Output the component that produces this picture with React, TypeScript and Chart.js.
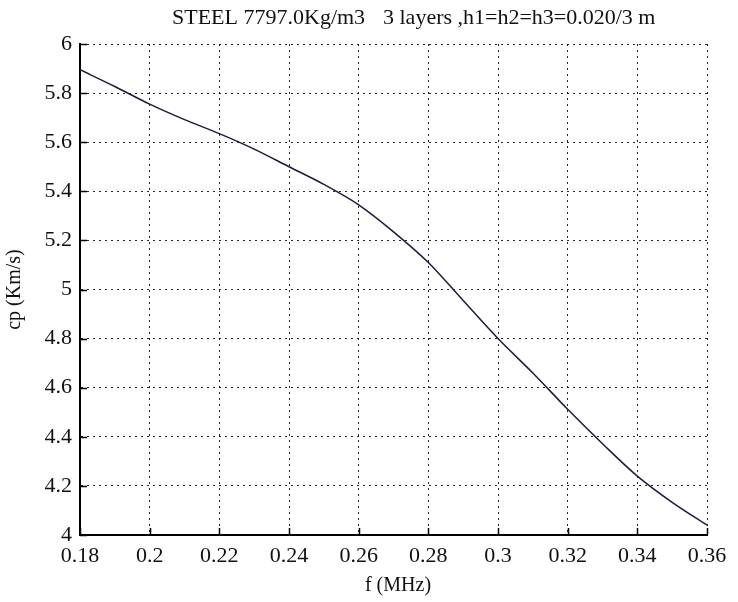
import { useEffect, useRef } from "react";
import { Chart, registerables } from "chart.js";

Chart.register(...registerables);

// ---- data ----
const freqs = [0.18, 0.19, 0.2, 0.21, 0.22, 0.23, 0.24, 0.25, 0.26, 0.27, 0.28, 0.29, 0.3, 0.31, 0.32, 0.33, 0.34, 0.35, 0.36];
const cpValues = [5.895, 5.827, 5.755, 5.692, 5.635, 5.572, 5.5, 5.428, 5.345, 5.235, 5.11, 4.955, 4.8, 4.66, 4.512, 4.372, 4.24, 4.133, 4.04];
const xTicks = [0.18, 0.2, 0.22, 0.24, 0.26, 0.28, 0.3, 0.32, 0.34, 0.36];
const yTicks = [4, 4.2, 4.4, 4.6, 4.8, 5, 5.2, 5.4, 5.6, 5.8, 6];
const titleLeft = "STEEL 7797.0Kg/m3";
const titleRight = "3 layers ,h1=h2=h3=0.020/3 m";
const xLabel = "f (MHz)";
const yLabel = "cp (Km/s)";

const SERIF = "'Liberation Serif', serif";

Chart.defaults.font.family = SERIF;

const fmt = (v: number) => String(Number(v.toFixed(2)));

const decorPlugin = {
  id: "decor",
  afterDatasetsDraw(chart: any) {
    const { ctx, chartArea, scales } = chart;
    const xs = scales.x;
    const ys = scales.y;
    ctx.save();
    // inward ticks
    ctx.strokeStyle = "#000";
    ctx.lineWidth = 1.5;
    ctx.beginPath();
    for (const v of xTicks) {
      const px = Math.round(xs.getPixelForValue(v)) + 0.5;
      ctx.moveTo(px, chartArea.bottom);
      ctx.lineTo(px, chartArea.bottom - 7);
    }
    for (const v of yTicks) {
      const py = Math.round(ys.getPixelForValue(v)) + 0.5;
      ctx.moveTo(chartArea.left, py);
      ctx.lineTo(chartArea.left + 7, py);
    }
    ctx.stroke();
    ctx.restore();
  },
  afterDraw(chart: any) {
    const { ctx, chartArea } = chart;
    ctx.save();
    ctx.fillStyle = "#111";
    ctx.textBaseline = "alphabetic";
    ctx.textAlign = "left";
    ctx.font = `22px ${SERIF}`;
    ctx.fillText(titleLeft, 172, 24);
    ctx.fillText(titleRight, 383, 24);

    ctx.font = `20px ${SERIF}`;
    ctx.textAlign = "center";
    ctx.fillText(xLabel, 398, 591);

    ctx.translate(15, (chartArea.top + chartArea.bottom) / 2);
    ctx.rotate(-Math.PI / 2);
    ctx.textBaseline = "middle";
    ctx.fillText(yLabel, 0, 0);
    ctx.restore();
  },
};

export default function App() {
  const canvasRef = useRef<HTMLCanvasElement | null>(null);

  useEffect(() => {
    if (!canvasRef.current) return;
    const points = freqs.map((f, i) => ({ x: f, y: cpValues[i] }));
    const chart = new Chart(canvasRef.current, {
      type: "line",
      data: {
        datasets: [
          {
            data: points,
            borderColor: "#1c1c3a",
            borderWidth: 1.5,
            pointRadius: 0,
            fill: false,
            cubicInterpolationMode: "monotone",
          },
        ],
      },
      plugins: [decorPlugin],
      options: {
        animation: false,
        responsive: true,
        maintainAspectRatio: false,
        layout: { padding: { top: 44, right: 31, left: 0, bottom: 0 } },
        plugins: {
          legend: { display: false },
          title: { display: false },
          tooltip: { enabled: false },
        },
        scales: {
          x: {
            type: "linear",
            min: 0.18,
            max: 0.36,
            afterBuildTicks: (s: any) => {
              s.ticks = xTicks.map((v) => ({ value: v }));
            },
            afterFit: (s: any) => {
              s.height = 67;
            },
            grid: {
              color: "rgba(0,0,0,0.85)",
              lineWidth: 1,
              drawTicks: false,
            },
            border: { display: true, color: "#000", width: 2, dash: [2, 4] },
            ticks: {
              autoSkip: false,
              maxRotation: 0,
              padding: 8,
              color: "#111",
              font: { family: SERIF, size: 22 },
              callback: (v: any) => fmt(Number(v)),
            },
          },
          y: {
            type: "linear",
            min: 4,
            max: 6,
            afterBuildTicks: (s: any) => {
              s.ticks = yTicks.map((v) => ({ value: v }));
            },
            afterFit: (s: any) => {
              s.width = 80;
            },
            grid: {
              color: "rgba(0,0,0,0.85)",
              lineWidth: 1,
              drawTicks: false,
            },
            border: { display: true, color: "#000", width: 2, dash: [2, 4] },
            ticks: {
              autoSkip: false,
              padding: 8,
              color: "#111",
              font: { family: SERIF, size: 22 },
              callback: (v: any) => fmt(Number(v)),
            },
          },
        },
      },
    } as any);
    return () => chart.destroy();
  }, []);

  return (
    <div style={{ position: "fixed", left: 0, top: 0, width: 738, height: 602, background: "#fff" }}>
      <canvas ref={canvasRef} />
    </div>
  );
}
